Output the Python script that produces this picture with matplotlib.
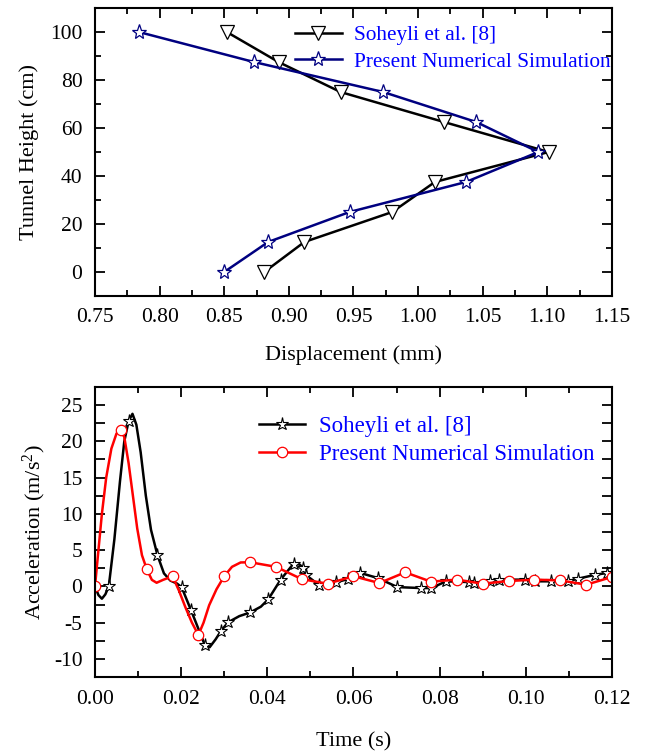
import numpy as np
import matplotlib.pyplot as plt
from matplotlib.ticker import MultipleLocator

plt.rcParams['font.family'] = ['Liberation Serif', 'DejaVu Serif']
plt.rcParams['mathtext.fontset'] = 'custom'
plt.rcParams['mathtext.rm'] = 'Liberation Serif'
plt.rcParams['axes.unicode_minus'] = False

# top panel: displacement profile along tunnel height
height = [100, 87.5, 75, 62.5, 50, 37.5, 25, 12.5, 0]
disp_soheyli = [0.852, 0.892, 0.940, 1.020, 1.101, 1.013, 0.980, 0.912, 0.881]
disp_present = [0.784, 0.873, 0.973, 1.045, 1.093, 1.037, 0.947, 0.884, 0.850]

# bottom panel: acceleration time history (line points; flag 1 = marker drawn)
soh_t = [0.0, 0.0008, 0.0016, 0.0024, 0.0032, 0.0045, 0.0058, 0.0068, 0.0078, 0.0087,
         0.0096, 0.0106, 0.0118, 0.0130, 0.0145, 0.0160, 0.0175, 0.0190, 0.0201, 0.0223,
         0.0255, 0.0266, 0.0280, 0.0293, 0.0309, 0.0335, 0.036, 0.0385, 0.0402, 0.0431,
         0.0461, 0.0475, 0.0483, 0.0489, 0.0521, 0.056, 0.0588, 0.0616, 0.0656, 0.0702,
         0.0757, 0.0781, 0.0815, 0.0867, 0.0879, 0.0917, 0.0938, 0.0998, 0.1022, 0.1058,
         0.1097, 0.1121, 0.1161, 0.1189, 0.12]
soh_a = [0.0, -1.2, -1.7, -1.1, 0.0, 6.5, 14.5, 20.0, 22.8, 23.8,
         22.3, 18.5, 12.5, 7.8, 4.3, 1.8, 0.8, 0.4, -0.1, -3.3,
         -8.1, -8.4, -7.3, -6.1, -4.95, -4.1, -3.6, -2.8, -1.8, 0.93,
         3.15, 3.0, 2.6, 1.6, 0.14, 0.6, 1.0, 1.85, 1.16, -0.1,
         -0.23, -0.23, 0.7, 0.6, 0.46, 0.7, 0.93, 0.93, 0.7, 0.7,
         0.7, 1.06, 1.6, 1.85, 2.0]
soh_mark = [0, 0, 0, 0, 1, 0, 0, 0, 1, 0,
            0, 0, 0, 0, 1, 0, 0, 0, 1, 1,
            1, 0, 0, 1, 1, 0, 1, 0, 1, 1,
            1, 0, 1, 1, 1, 1, 1, 1, 1, 1,
            1, 1, 1, 1, 1, 1, 1, 1, 1, 1,
            1, 1, 1, 1, 0]

sim_t = [0.0, 0.0008, 0.0016, 0.0026, 0.0038, 0.0050, 0.006, 0.0068, 0.0078, 0.0088,
         0.0098, 0.0109, 0.012, 0.0132, 0.0143, 0.0158, 0.018, 0.0195, 0.021, 0.0225,
         0.024, 0.0252, 0.0265, 0.0282, 0.030, 0.0318, 0.0338, 0.036, 0.042, 0.048,
         0.054, 0.060, 0.066, 0.072, 0.078, 0.084, 0.090, 0.096, 0.102, 0.108,
         0.114, 0.120]
sim_a = [0.0, 5.0, 10.0, 15.0, 19.0, 21.1, 21.5, 20.6, 17.0, 12.5,
         8.0, 4.3, 2.4, 0.9, 0.5, 0.9, 1.4, -0.6, -2.9, -5.0,
         -6.7, -5.0, -2.6, -0.4, 1.4, 2.7, 3.3, 3.33, 2.7, 1.0,
         0.37, 1.4, 0.46, 1.94, 0.65, 0.93, 0.37, 0.74, 0.93, 0.83,
         0.23, 1.3]
sim_mark = [1, 0, 0, 0, 0, 0, 1, 0, 0, 0,
            0, 0, 1, 0, 0, 0, 1, 0, 0, 0,
            1, 0, 0, 0, 1, 0, 0, 1, 1, 1,
            1, 1, 1, 1, 1, 1, 1, 1, 1, 1,
            1, 1]

fs = 15.5
fig = plt.figure(figsize=(6.48, 7.51), dpi=100)
ax1 = fig.add_axes([0.1466, 0.6059, 0.7978, 0.3834])
ax2 = fig.add_axes([0.1466, 0.0985, 0.7978, 0.3862])

ax1.plot(disp_soheyli, height, color='black', lw=1.8, marker='v', ms=10,
         mfc='white', mec='black', mew=0.9, label='Soheyli et al. [8]')
ax1.plot(disp_present, height, color='#000080', lw=1.8, marker='*', ms=11,
         mfc='white', mec='#000080', mew=0.9, label='Present Numerical Simulation')
ax1.set_xlim(0.75, 1.15)
ax1.set_ylim(-10, 110)
ax1.xaxis.set_major_locator(MultipleLocator(0.05))
ax1.xaxis.set_minor_locator(MultipleLocator(0.025))
ax1.yaxis.set_major_locator(MultipleLocator(20))
ax1.yaxis.set_minor_locator(MultipleLocator(10))
ax1.xaxis.set_major_formatter(plt.FormatStrFormatter('%.2f'))
ax1.set_xlabel('Displacement (mm)', fontsize=16, labelpad=13)
ax1.set_ylabel('Tunnel Height (cm)', fontsize=16, labelpad=8)

soh_idx = [i for i, m in enumerate(soh_mark) if m]
sim_idx = [i for i, m in enumerate(sim_mark) if m]
ax2.plot(soh_t, soh_a, color='black', lw=1.8, marker='*', ms=9.5, markevery=soh_idx,
         mfc='white', mec='black', mew=0.8, label='Soheyli et al. [8]')
ax2.plot(sim_t, sim_a, color='red', lw=1.8, marker='o', ms=7.5, markevery=sim_idx,
         mfc='white', mec='red', mew=0.9, label='Present Numerical Simulation')
ax2.set_xlim(0, 0.12)
ax2.set_ylim(-12.5, 27.5)
ax2.xaxis.set_major_locator(MultipleLocator(0.02))
ax2.xaxis.set_minor_locator(MultipleLocator(0.01))
ax2.yaxis.set_major_locator(MultipleLocator(5))
ax2.yaxis.set_minor_locator(MultipleLocator(2.5))
ax2.xaxis.set_major_formatter(plt.FormatStrFormatter('%.2f'))
ax2.set_xlabel('Time (s)', fontsize=16, labelpad=17)
ax2.set_ylabel(r'Acceleration (m/s$\mathregular{^2}$)', fontsize=16, labelpad=4)

for ax in (ax1, ax2):
    ax.tick_params(which='both', direction='in', top=True, right=True,
                   labelsize=fs, width=1.3, pad=9)
    ax.tick_params(which='major', length=7.5)
    ax.tick_params(which='minor', length=4)
    for s in ax.spines.values():
        s.set_linewidth(1.5)
ax2.tick_params(axis='y', which='minor', length=7)

leg1 = ax1.legend(loc='upper left', bbox_to_anchor=(0.387, 0.94), frameon=False,
                  fontsize=15.3, handlelength=2.2, handletextpad=0.55,
                  borderpad=0, borderaxespad=0, labelspacing=0.32)
leg2 = ax2.legend(loc='upper left', bbox_to_anchor=(0.318, 0.90), frameon=False,
                  fontsize=16.5, handlelength=2.0, handletextpad=0.6,
                  borderpad=0, borderaxespad=0, labelspacing=0.3)
for leg in (leg1, leg2):
    for t in leg.get_texts():
        t.set_color('#0000FF')

fig.savefig('out.png', dpi=100)
